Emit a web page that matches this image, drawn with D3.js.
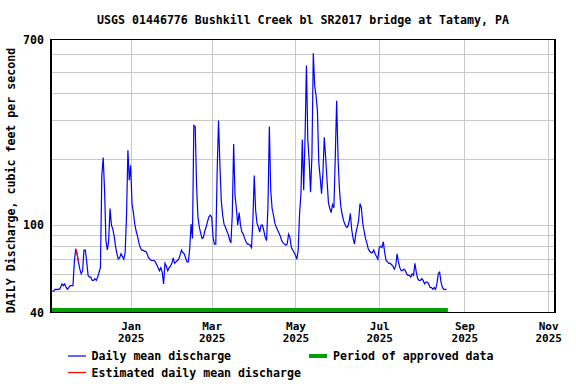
<!DOCTYPE html>
<html><head><meta charset="utf-8">
<style>
body { margin: 0; background: #fff; }
text { font-family: "DejaVu Sans Mono", monospace; font-weight: bold; font-size: 11.6px; fill: #000; }
.xlab text { font-size: 11px; }
.grid line { stroke: #c8c8c8; stroke-width: 1; shape-rendering: crispEdges; }
.frame { fill: none; stroke: #000; stroke-width: 1.4; shape-rendering: crispEdges; }
.line { fill: none; stroke: #0000ff; stroke-width: 1.2; }
.est { fill: none; stroke: #ff0000; stroke-width: 1.2; }
</style>
<script src="https://cdn.jsdelivr.net/npm/d3@7"></script>
</head><body>
<div id="chart"></div>
<script>
// daily mean discharge (cfs), one value per day from startDate
var startDate = "2024-11-05";
var dailyMean = [
  50, 50, 51, 51, 51, 51, 52, 54, 53, 54, 52, 51, 52, 53, 53, 53,
  68, 78, 74, 68, 63, 60, 62, 77, 77, 68, 59, 58, 58, 56, 56, 57, 56, 58, 61, 64,
  168, 203, 144, 85, 77, 85, 119, 100, 96, 89, 80, 74, 70, 71, 74, 72, 70, 75, 111, 219, 160, 187,
  125, 114, 101, 94, 89, 83, 79, 77, 77, 76, 76, 74, 71, 70, 69, 69, 69, 68, 66, 64,
  62, 64, 61, 54, 67, 65, 62, 64, 65, 67, 71, 67, 68, 69, 70, 73, 77, 75, 74, 71,
  68, 68, 78, 101, 87, 284, 281, 151, 109, 98, 92, 87, 88, 94, 98, 104, 109, 111, 109, 88,
  82, 82, 177, 299, 187, 129, 111, 101, 98, 94, 91, 86, 83, 111, 234, 136, 119, 100, 114, 100,
  93, 91, 87, 84, 82, 82, 81, 79, 105, 168, 117, 102, 98, 93, 100, 100, 94, 88, 85, 123,
  281, 144, 119, 111, 102, 98, 95, 92, 89, 85, 83, 82, 81, 82, 91, 88, 79, 77, 75, 73,
  70, 77, 113, 139, 245, 144, 251, 533, 245, 197, 141, 207, 606, 432, 389, 332, 193, 165, 139, 172,
  251, 203, 160, 127, 119, 114, 124, 120, 204, 368, 203, 147, 122, 112, 105, 101, 98, 98, 103, 113,
  95, 87, 82, 92, 98, 105, 125, 120, 102, 94, 87, 83, 78, 76, 75, 75, 77, 74, 72, 70,
  79, 80, 79, 84, 75, 69, 68, 67, 67, 66, 65, 63, 65, 74, 68, 64, 62, 62, 63, 62,
  60, 59, 59, 58, 60, 59, 67, 61, 57, 56, 56, 57, 56, 54, 55, 55, 54, 52, 52, 51,
  52, 51, 54, 60, 61, 55, 52, 51, 51, 51
];
var estimatedDates = ["2024-11-22", "2024-11-23", "2024-11-24"];
var approvedPeriod = ["2024-11-04", "2025-08-20"];
var xDomain = ["2024-11-04", "2025-11-06"];
var xTickDates = ["2025-01-01", "2025-03-01", "2025-05-01", "2025-07-01", "2025-09-01", "2025-11-01"];
var yLabels = [40, 100, 700];
var yGrid = [50, 60, 70, 80, 90, 100, 200, 300, 400, 500, 600];
var title = "USGS 01446776 Bushkill Creek bl SR2017 bridge at Tatamy, PA";
var yTitle = "DAILY Discharge, cubic feet per second";

var parse = d3.timeParse("%Y-%m-%d");
var start = parse(startDate);
var dataset = dailyMean.map(function(v, i) { return {date: d3.timeDay.offset(start, i), value: v}; });
var estSet = new Set(estimatedDates);
var fmt = d3.timeFormat("%Y-%m-%d");
var estimated = dataset.filter(function(d) { return estSet.has(fmt(d.date)); });

var W = 576, H = 384;
var plotL = 51, plotR = 555, plotT = 39.5, plotB = 312.5;

var svg = d3.select("#chart").append("svg").attr("width", W).attr("height", H);

var x = d3.scaleTime().domain(xDomain.map(parse)).range([plotL, plotR]);
var y = d3.scaleLog().domain([40, 700]).range([plotB, plotT]);

// grid
var grid = svg.append("g").attr("class", "grid");
grid.selectAll(".h").data(yGrid).enter().append("line")
    .attr("x1", plotL).attr("x2", plotR)
    .attr("y1", function(d) { return Math.round(y(d)) + 0.5; })
    .attr("y2", function(d) { return Math.round(y(d)) + 0.5; });
grid.selectAll(".v").data(xTickDates.map(parse)).enter().append("line")
    .attr("y1", plotT).attr("y2", plotB)
    .attr("x1", function(d) { return Math.round(x(d)) + 0.5; })
    .attr("x2", function(d) { return Math.round(x(d)) + 0.5; });

// approved period bar
var ap = approvedPeriod.map(parse);
svg.append("rect")
    .attr("x", Math.max(plotL, x(ap[0]))).attr("y", 308)
    .attr("width", x(ap[1]) - Math.max(plotL, x(ap[0]))).attr("height", 4)
    .attr("fill", "#00a000");

// lines
var line = d3.line().x(function(d) { return x(d.date); }).y(function(d) { return y(d.value); });
svg.append("path").datum(dataset).attr("class", "line").attr("d", line);
svg.append("path").datum(estimated).attr("class", "est").attr("d", line);

// frame
svg.append("rect").attr("class", "frame")
    .attr("x", plotL).attr("y", plotT).attr("width", plotR - plotL).attr("height", plotB - plotT);

// y axis labels
var ya = svg.append("g").attr("transform", "translate(" + plotL + ",0)")
    .call(d3.axisLeft(y).tickValues(yLabels).tickFormat(d3.format("d")).tickSize(0).tickPadding(7));
ya.select(".domain").remove();

// x axis labels (month / year)
var xa = svg.append("g").attr("class", "xlab").attr("transform", "translate(0," + plotB + ")")
    .call(d3.axisBottom(x).tickValues(xTickDates.map(parse)).tickSize(0).tickPadding(9.5));
xa.select(".domain").remove();
xa.selectAll(".tick text").each(function(d) {
  var t = d3.select(this).text(null);
  t.append("tspan").attr("x", 0).text(d3.timeFormat("%b")(d));
  t.append("tspan").attr("x", 0).attr("dy", "1.15em").text(d3.timeFormat("%Y")(d));
});

// titles
svg.append("text").attr("x", (plotL + plotR) / 2).attr("y", 23.5)
    .attr("text-anchor", "middle").text(title);
svg.append("text").attr("transform", "translate(15,180.5) rotate(-90)")
    .attr("text-anchor", "middle").text(yTitle);

// legend
var lg = svg.append("g");
lg.append("line").attr("x1", 68).attr("x2", 86).attr("y1", 356).attr("y2", 356)
    .attr("stroke", "#0000ff").attr("stroke-width", 1.2);
lg.append("text").attr("x", 91.5).attr("y", 360).text("Daily mean discharge");
lg.append("line").attr("x1", 68).attr("x2", 86).attr("y1", 372.5).attr("y2", 372.5)
    .attr("stroke", "#ff0000").attr("stroke-width", 1.2);
lg.append("text").attr("x", 91.5).attr("y", 376.5).text("Estimated daily mean discharge");
lg.append("rect").attr("x", 309).attr("y", 354).attr("width", 18).attr("height", 4).attr("fill", "#00a000");
lg.append("text").attr("x", 333).attr("y", 360).text("Period of approved data");
</script>
</body></html>
